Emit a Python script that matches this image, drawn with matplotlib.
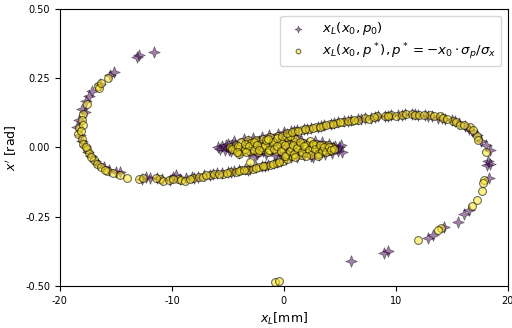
import numpy as np
import matplotlib.pyplot as plt
from matplotlib.path import Path

plt.rcParams['axes.unicode_minus'] = False

# x_L(x0, p0) -- star markers, [mm] and [rad]
star_arc_x = [-11.6, -13.1, -12.9, -15.2, -15.5, -16.4, -17.1, -17.4, -17.7, -18.0, -17.8, -18.3,
              -18.5, -18.2, -18.0, -17.8, -17.5, -17.2, -16.9, -16.6, -16.1, -15.6, -15.0, -14.6]
star_arc_y = [0.345, 0.328, 0.332, 0.272, 0.262, 0.228, 0.202, 0.185, 0.168, 0.14, 0.128, 0.10,
              0.075, 0.045, 0.025, 0.005, -0.015, -0.03, -0.05, -0.058, -0.07, -0.083, -0.09, -0.09]
star_low_x = [-12.7, -12.3, -11.3, -10.9, -10.2, -9.6, -9.3, -8.7, -8.2, -7.7, -7.1, -6.6, -6.0,
              -5.5, -5.0, -4.5, -4.0, -3.5, -3.0, -2.5, -2.0, -1.4, -0.9, -0.3, 0.2,
              -12.0, -9.9, -8.0, -6.3, -4.7, -3.2, -1.7, -0.6]
star_low_y = [-0.113, -0.105, -0.11, -0.113, -0.118, -0.1, -0.115, -0.112, -0.108, -0.107, -0.1,
              -0.098, -0.094, -0.093, -0.088, -0.085, -0.083, -0.078, -0.076, -0.072, -0.068,
              -0.062, -0.057, -0.05, -0.043,
              -0.11, -0.108, -0.112, -0.096, -0.09, -0.08, -0.066, -0.054]
star_blob_x = [-5.9, -5.5, -5.3, -5.0, -4.7, -4.5, -4.2, -4.0, -3.6, -3.4, -3.1, -2.8, -2.6, -2.4,
               -2.0, -1.8, -1.6, -1.3, -1.0, -0.8, -0.5, -0.2, 0.0, 0.4, 0.6, 0.9, 1.2, 1.5, 1.8,
               2.1, 2.4, 2.8, 3.1, 3.4, 3.7, 4.0, 4.3, 4.6, 4.8, 5.1, 5.2, 1.6, -2.2, 3.0,
               -5.7, -5.2, -4.9, -4.4, -3.8, -3.2, -2.9, -2.2, -1.9, -1.2, -1.1, -0.6, -0.4, 0.2,
               0.3, 0.8, 1.1, 1.4, 2.0, 2.6, 2.6, 3.3, 3.9, 4.4, 4.9, -2.6, -4.6, 0.0, 1.0]
star_blob_y = [0.0, 0.006, -0.008, 0.012, -0.014, 0.022, 0.0, -0.02, 0.03, 0.01, -0.02, 0.034,
               0.012, -0.022, 0.038, 0.014, -0.024, 0.044, 0.016, -0.026, 0.05, 0.012, -0.03,
               0.026, -0.036, 0.01, -0.034, 0.028, -0.028, 0.014, -0.03, 0.024, -0.026, 0.018,
               -0.024, 0.012, -0.02, 0.006, -0.012, 0.008, -0.018, 0.0, 0.0, 0.0,
               -0.006, 0.01, -0.008, 0.008, -0.012, 0.022, -0.004, 0.024, -0.012, 0.03, -0.004,
               0.02, -0.016, 0.036, -0.004, -0.02, 0.016, -0.014, -0.012, 0.004, -0.034, -0.006,
               -0.006, 0.0, 0.002, -0.03, 0.01, 0.044, 0.04]
star_up_x = [0.0, 0.6, 1.2, 1.8, 2.4, 3.0, 3.6, 4.2, 4.8, 5.4, 6.0, 6.6, 7.2, 7.8, 8.4, 9.0, 9.6,
             10.2, 10.8, 11.4, 12.0, 12.6, 13.2, 13.8, 14.4, 15.0, 15.6, 16.2, 16.8, 17.2, 17.6,
             18.0, 18.4, 18.2, 18.4, 18.3,
             0.3, 0.9, 2.1, 3.3, 4.5, 5.7, 6.9, 8.1, 9.3, 10.5, 11.7, 12.9, 14.1, 15.3, 16.5]
star_up_y = [0.055, 0.058, 0.062, 0.066, 0.07, 0.074, 0.08, 0.085, 0.09, 0.095, 0.098, 0.102,
             0.106, 0.108, 0.112, 0.114, 0.116, 0.118, 0.12, 0.12, 0.118, 0.116, 0.112, 0.108,
             0.104, 0.098, 0.088, 0.076, 0.06, 0.045, 0.025, 0.008, -0.008, -0.05, -0.06, -0.112,
             0.05, 0.06, 0.068, 0.078, 0.087, 0.096, 0.104, 0.11, 0.115, 0.118, 0.12, 0.114,
             0.106, 0.094, 0.068]
star_tail_x = [18.1, 16.5, 16.1, 15.5, 14.3, 13.3, 12.9, 9.3, 8.9, 6.0]
star_tail_y = [-0.065, -0.225, -0.24, -0.268, -0.288, -0.315, -0.325, -0.372, -0.38, -0.41]

# x_L(x0, p*) -- circle markers
circ_arc_x = [-15.7, -16.6, -16.5, -17.6, -17.9, -18.0, -18.3, -18.4, -18.0, -17.9, -17.6, -17.4,
              -17.0, -16.7, -16.3, -15.8, -15.3, -14.6, -14.0,
              -16.3, -17.9, -18.1, -17.7, -17.2, -16.0]
circ_arc_y = [0.25, 0.222, 0.215, 0.155, 0.12, 0.10, 0.07, 0.05, 0.03, 0.012, -0.005, -0.02,
              -0.045, -0.06, -0.072, -0.086, -0.092, -0.098, -0.11,
              0.232, 0.08, 0.06, 0.0, -0.034, -0.08]
circ_low_x = [-12.9, -11.1, -10.8, -9.5, -9.2, -8.8, -8.1, -7.6, -7.2, -6.6, -6.2, -5.4, -4.8,
              -4.3, -3.8, -3.3, -2.8, -2.2, -1.7, -1.2, -0.6, -0.1, 0.3,
              -12.6, -11.4, -10.3, -9.9, -8.4, -7.0, -5.8, -5.1, -4.0, -3.6, -2.5, -1.9, -1.0, -0.4]
circ_low_y = [-0.115, -0.115, -0.12, -0.115, -0.118, -0.12, -0.11, -0.108, -0.105, -0.1, -0.095,
              -0.097, -0.09, -0.088, -0.082, -0.082, -0.076, -0.07, -0.067, -0.063, -0.055,
              -0.048, -0.04,
              -0.112, -0.11, -0.118, -0.113, -0.115, -0.1, -0.095, -0.092, -0.086, -0.08,
              -0.074, -0.068, -0.06, -0.052]
circ_blob_x = [-4.8, -4.4, -4.3, -3.9, -3.8, -3.7, -3.3, -3.2, -3.0, -2.9, -2.6, -2.5, -2.3, -2.1,
               -1.9, -1.8, -1.5, -1.4, -1.2, -1.1, -0.8, -0.7, -0.5, -0.4, -0.1, 0.0, 0.2, 0.4,
               0.6, 0.7, 0.9, 1.1, 1.3, 1.5, 1.7, 1.9, 2.1, 2.3, 2.5, 2.7, 2.9, 3.1, 3.3, 3.5,
               3.7, 3.9, 4.1, 4.3, -4.0, -2.0, 0.3, 1.0, -0.3, 2.0, -3.0,
               -4.6, -4.1, -3.5, -3.5, -3.1, -2.7, -2.7, -2.4, -2.2, -1.7, -1.6, -1.3, -1.0, -0.9,
               -0.6, -0.6, -0.3, 0.1, 0.1, 0.5, 0.8, 0.9, 1.2, 1.4, 1.6, 1.8, 2.2, 2.4, 2.6, 2.8,
               3.0, 3.2, 3.4, 3.6, 3.8, 4.0, 4.2, 4.5, -0.2, 0.5, -1.4, -4.2, -3.4, 1.0, 2.0, 3.0]
circ_blob_y = [0.0, -0.008, 0.01, 0.0, 0.018, -0.014, 0.008, 0.026, -0.012, 0.016, 0.0, 0.028,
               -0.016, 0.014, 0.03, -0.006, 0.02, -0.018, 0.036, 0.004, 0.024, -0.012, 0.042,
               0.01, -0.004, 0.028, -0.022, 0.014, 0.0, -0.03, 0.02, -0.012, 0.008, -0.026,
               0.016, -0.004, -0.02, 0.022, 0.006, -0.014, 0.014, -0.002, -0.02, 0.01, -0.01,
               0.008, -0.014, 0.0, -0.022, 0.0, 0.036, 0.03, 0.02, 0.008, -0.052,
               -0.004, 0.006, -0.006, 0.014, 0.004, -0.008, 0.02, 0.008, -0.01, 0.008, 0.026,
               -0.008, 0.018, -0.004, 0.034, 0.006, -0.014, 0.01, -0.03, -0.012, 0.008, -0.022,
               -0.002, 0.018, -0.016, 0.004, -0.01, -0.026, 0.012, -0.004, -0.022, 0.008,
               -0.012, 0.002, -0.018, 0.0, -0.008, -0.004, 0.04, 0.042, 0.03, -0.016, -0.018,
               -0.035, -0.032, -0.03]
circ_up_x = [0.3, 1.0, 1.6, 2.2, 2.9, 3.5, 4.1, 4.7, 5.3, 6.1, 6.6, 7.2, 7.6, 8.3, 9.0, 9.6, 10.0,
             10.5, 10.9, 11.4, 11.7, 13.0, 13.4, 13.9, 14.2, 15.1, 15.4, 15.7, 16.6, 17.2, 17.3,
             18.0,
             0.7, 1.3, 1.9, 2.6, 3.2, 3.8, 4.4, 5.0, 5.7, 6.3, 8.0, 9.3, 12.1, 12.5, 14.6, 16.1,
             16.9]
circ_up_y = [0.052, 0.058, 0.064, 0.068, 0.072, 0.078, 0.083, 0.088, 0.092, 0.096, 0.1, 0.106,
             0.104, 0.114, 0.112, 0.117, 0.113, 0.117, 0.12, 0.12, 0.116, 0.118, 0.115, 0.112,
             0.108, 0.096, 0.09, 0.08, 0.074, 0.041, 0.028, -0.016,
             0.056, 0.06, 0.066, 0.07, 0.075, 0.08, 0.086, 0.09, 0.094, 0.1, 0.11, 0.115, 0.118,
             0.116, 0.104, 0.082, 0.062]
circ_tail_x = [17.9, 17.8, 17.7, 17.2, 16.8, 14.0, 13.8, 12.0, -0.8, -0.45]
circ_tail_y = [-0.118, -0.128, -0.158, -0.19, -0.212, -0.292, -0.298, -0.334, -0.487, -0.483]

star_x = np.concatenate([star_arc_x, star_low_x, star_blob_x, star_up_x, star_tail_x])
star_y = np.concatenate([star_arc_y, star_low_y, star_blob_y, star_up_y, star_tail_y])
circ_x = np.concatenate([circ_arc_x, circ_low_x, circ_blob_x, circ_up_x, circ_tail_x])
circ_y = np.concatenate([circ_arc_y, circ_low_y, circ_blob_y, circ_up_y, circ_tail_y])

star4 = Path.unit_regular_star(4, 0.4)

fig = plt.figure(figsize=(5.12, 3.28), dpi=100)
ax = fig.add_axes([0.117, 0.128, 0.875, 0.845])

ax.scatter(star_x, star_y, marker=star4, s=70, c='#440154', alpha=0.5,
           edgecolors='k', linewidths=0.5, label=r'$x_L(x_0, p_0)$')
ax.scatter(circ_x, circ_y, marker='o', s=32, c='#fde725', alpha=0.55,
           edgecolors='k', linewidths=0.8,
           label=r'$x_L(x_0, p^*), p^* = -x_0 \cdot \sigma_p / \sigma_x$')

ax.set_xlim(-20, 20)
ax.set_ylim(-0.5, 0.5)
ax.set_xticks([-20, -10, 0, 10, 20])
ax.set_yticks([-0.5, -0.25, 0.0, 0.25, 0.5])
ax.tick_params(labelsize=7)
ax.set_xlabel(r'$x_L$[mm]', fontsize=9)
ax.set_ylabel(r"$x'$ [rad]", fontsize=9)
ax.legend(loc='upper right', fontsize=9.6, markerscale=0.6, labelspacing=0.3, borderpad=0.35)

fig.savefig('out.png', dpi=100)
